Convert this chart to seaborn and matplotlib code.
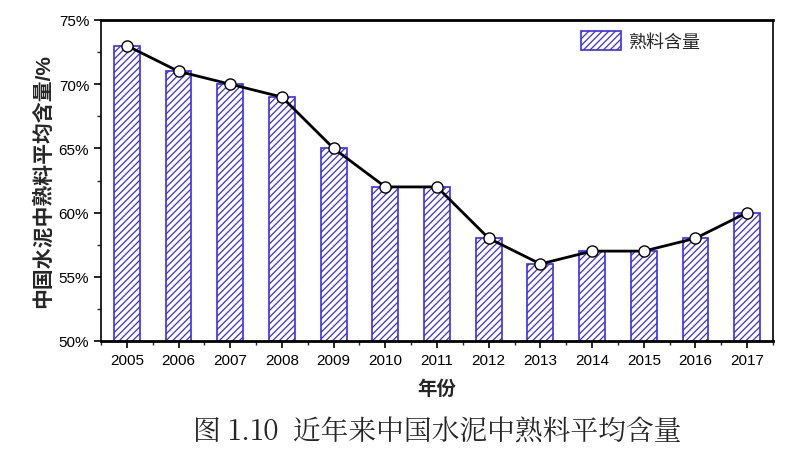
import numpy as np
import matplotlib.pyplot as plt
import pandas as pd
import seaborn as sns
from matplotlib.ticker import MultipleLocator, FuncFormatter

sns.set_style("ticks")
plt.rcParams['font.family'] = ['Liberation Sans', 'Noto Sans CJK SC', 'DejaVu Sans']
plt.rcParams['hatch.color'] = '#3a2cf0'
plt.rcParams['hatch.linewidth'] = 0.9

years = ['2005', '2006', '2007', '2008', '2009', '2010', '2011',
         '2012', '2013', '2014', '2015', '2016', '2017']
clinker = [73, 71, 70, 69, 65, 62, 62, 58, 56, 57, 57, 58, 60]

df = pd.DataFrame({'year': years, 'value': clinker})

fig = plt.figure(figsize=(8.11, 4.56), dpi=100)
ax = fig.add_axes([101/811, 1 - 342/456, 672/811, 321/456])

sns.barplot(data=df, x='year', y='value', ax=ax, width=0.5, color='white',
            edgecolor='#3a2cf0', linewidth=1.2, hatch='/////', label='熟料含量')
sns.lineplot(x=np.arange(len(years)), y=clinker, ax=ax, color='black', linewidth=2.0,
             marker='o', markersize=8, markerfacecolor='white',
             markeredgecolor='black', markeredgewidth=1.0)

ax.set_xlim(-0.5, len(years) - 0.5)
ax.set_ylim(50, 75)
ax.yaxis.set_major_locator(MultipleLocator(5))
ax.yaxis.set_minor_locator(MultipleLocator(2.5))
ax.yaxis.set_major_formatter(FuncFormatter(lambda v, p: f'{v:.0f}%'))
ax.set_xticks(np.arange(-0.5, len(years), 1.0), minor=True)
ax.tick_params(axis='both', which='major', direction='out', length=5, width=1.2,
               labelsize=11, colors='black')
ax.tick_params(axis='both', which='minor', direction='out', length=3, width=1.0)
ax.tick_params(axis='y', which='both', left=True)

for s in ['top', 'right', 'left', 'bottom']:
    ax.spines[s].set_visible(True)
    ax.spines[s].set_color('black')
ax.spines['top'].set_linewidth(2)
ax.spines['bottom'].set_linewidth(2)
ax.spines['left'].set_linewidth(1.2)
ax.spines['right'].set_linewidth(1.2)

ax.set_xlabel('年份', fontsize=14, fontweight='bold', labelpad=9)
ax.set_ylabel('中国水泥中熟料平均含量/%', fontsize=15, fontweight='bold', labelpad=4)

ax.legend(loc='upper left', bbox_to_anchor=(0.69, 1.015), frameon=False,
          fontsize=13, handlelength=2.2, handleheight=1.2, handletextpad=0.4)

fig.text(437/811, 1 - 432/456, '图 1.10  近年来中国水泥中熟料平均含量', ha='center', va='center',
         fontsize=20, family=['Noto Serif CJK SC', 'Liberation Serif', 'Noto Sans CJK SC'])

plt.savefig('out.png', dpi=100)
